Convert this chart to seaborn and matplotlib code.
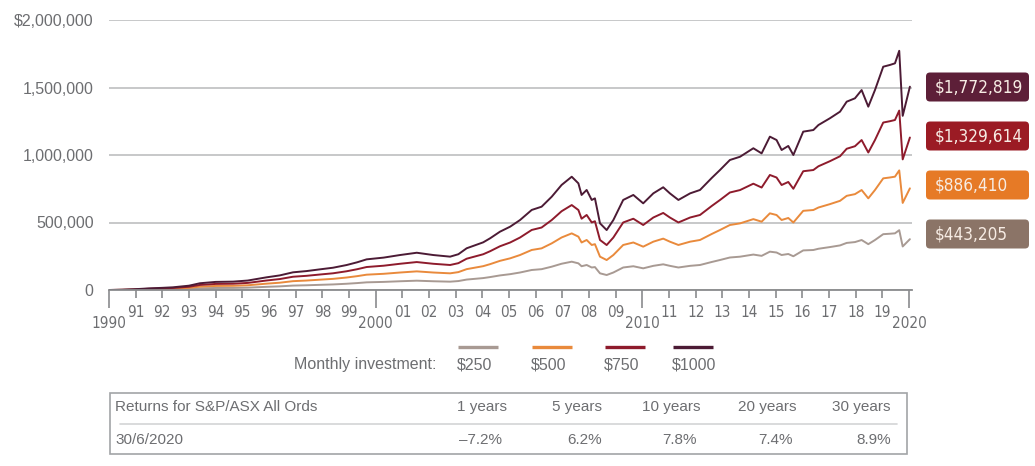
import pandas as pd
import matplotlib.pyplot as plt
import seaborn as sns
from matplotlib.patches import FancyBboxPatch, Rectangle
from matplotlib import font_manager as fm

sns.set_theme(style="white")
plt.rcParams['font.family'] = ['Liberation Sans', 'DejaVu Sans']

# Portfolio value of the $1000/month investor
years = [1990.0, 1990.5, 1990.9, 1991.5, 1992.0, 1992.4, 1993.0, 1993.41, 1994.0, 1994.65,
         1995.2, 1995.91, 1996.4, 1996.9, 1997.4, 1997.91, 1998.4, 1998.91, 1999.3, 1999.66,
         2000.3, 2000.91, 2001.54, 2002.16, 2002.79, 2003.1, 2003.41, 2004.03, 2004.29, 2004.66,
         2005.04, 2005.41, 2005.85, 2006.22, 2006.6, 2006.97, 2007.35, 2007.6, 2007.72, 2007.91,
         2008.1, 2008.22, 2008.41, 2008.66, 2008.91, 2009.28, 2009.66, 2010.03, 2010.41, 2010.78,
         2011.03, 2011.35, 2011.79, 2012.16, 2012.6, 2012.91, 2013.28, 2013.66, 2014.16, 2014.47,
         2014.78, 2015.03, 2015.22, 2015.47, 2015.66, 2016.03, 2016.41, 2016.6, 2017.03, 2017.41,
         2017.66, 2017.97, 2018.22, 2018.47, 2018.72, 2019.03, 2019.28, 2019.47, 2019.63, 2019.76,
         2020.03]
value_1000 = [0, 2000, 5000, 12000, 16000, 20000, 32000, 50000, 60000, 62000,
              70000, 94000, 108000, 131000, 140000, 153000, 165000, 185000, 205000, 227000,
              240000, 259000, 276000, 259000, 247000, 265000, 309000, 353000, 383000, 432000,
              469000, 518000, 593000, 617000, 691000, 778000, 839000, 790000, 704000, 741000,
              667000, 679000, 494000, 444000, 518000, 667000, 704000, 642000, 716000, 761000,
              716000, 667000, 716000, 741000, 830000, 889000, 963000, 987000, 1050000, 1012000,
              1136000, 1111000, 1037000, 1067000, 1000000, 1173000, 1185000, 1222000, 1272000, 1321000,
              1395000, 1420000, 1481000, 1358000, 1481000, 1654000, 1667000, 1679000, 1772000, 1290000,
              1506000]

amounts = [250, 500, 750, 1000]
amount_labels = ["$250", "$500", "$750", "$1000"]
line_colors = ["#a89a93", "#e98a3c", "#8e1b2c", "#4c1b35"]
box_colors = ["#8b7467", "#e67a26", "#9b1b24", "#5d1f38"]
peak_values = [443205, 886410, 1329614, 1772819]

y_ticks = [0, 500000, 1000000, 1500000, 2000000]
y_tick_labels = ["0", "500,000", "1,000,000", "1,500,000", "$2,000,000"]
decade_ticks = [1990, 2000, 2010, 2020]
decade_labels = ["1990", "2000", "2010", "2020"]
year_ticks = [y for y in range(1991, 2020) if y % 10 != 0]
year_labels = [str(y)[2:] for y in year_ticks]

return_header = "Returns for S&P/ASX All Ords"
return_date = "30/6/2020"
return_periods = ["1 years", "5 years", "10 years", "20 years", "30 years"]
return_values = ["–7.2%", "6.2%", "7.8%", "7.4%", "8.9%"]

rows = []
for amt, lab in zip(amounts, amount_labels):
    for yr, v in zip(years, value_1000):
        rows.append({"year": yr, "value": v * amt / 1000, "investment": lab})
df = pd.DataFrame(rows)

W, H = 1035, 466
GREY = "#6d6e71"

# condensed face for tick labels and value boxes
narrow_file = fm.findfont(fm.FontProperties(family="DejaVu Sans", stretch="condensed"))
is_condensed = "Condensed" in narrow_file
narrow_fp = fm.FontProperties(fname=narrow_file)

fig = plt.figure(figsize=(W / 100, H / 100), dpi=100)
ax = fig.add_axes([109 / W, 1 - 290 / H, (912 - 109) / W, 270 / H])

sns.lineplot(data=df, x="year", y="value", hue="investment",
             palette=dict(zip(amount_labels, line_colors)), legend=False,
             linewidth=1.4, estimator=None, sort=False, ax=ax)

ax.set_xlim(1990, 1990 + 803 / 26.67)
ax.set_ylim(0, 2000000)
ax.set_xlabel("")
ax.set_ylabel("")
ax.set_yticks(y_ticks, labels=y_tick_labels)
ax.set_xticks(decade_ticks, labels=decade_labels)
ax.set_xticks(year_ticks, labels=year_labels, minor=True)
ax.yaxis.grid(True, color="#b8b9bb", linewidth=1.1)
ax.xaxis.grid(False)
for s in ["top", "right", "left"]:
    ax.spines[s].set_visible(False)
ax.spines["bottom"].set_color("#8a8b8d")
ax.spines["bottom"].set_linewidth(1.3)
ax.tick_params(axis="y", length=0, pad=11, labelsize=11.5, labelcolor=GREY)
ax.tick_params(axis="x", which="major", bottom=True, length=13, width=1.2,
               color="#8a8b8d", pad=6, labelcolor=GREY)
ax.tick_params(axis="x", which="minor", bottom=True, length=6, width=1.2,
               color="#8a8b8d", pad=5, labelcolor=GREY)
tick_size = 11 if is_condensed else 9.5
for t in ax.get_xticklabels(which="both"):
    t.set_fontproperties(narrow_fp)
    t.set_fontsize(tick_size)

# overlay in pixel coordinates for labels, legend and table
ov = fig.add_axes([0, 0, 1, 1])
ov.set_xlim(0, W)
ov.set_ylim(H, 0)
ov.axis("off")
ov.patch.set_alpha(0)

box_size = 12.3 if is_condensed else 11
box_centers = [234, 185, 136, 87]
for val, col, cy in zip(peak_values, box_colors, box_centers):
    ov.add_patch(FancyBboxPatch((926, cy - 14.5), 103, 29,
                                boxstyle="round,pad=0,rounding_size=4",
                                facecolor=col, edgecolor="none"))
    ov.text(935, cy + 0.5, f"${val:,}", ha="left", va="center", fontproperties=narrow_fp,
            fontsize=box_size, color="#f7ece4")

# legend
ov.text(437, 365, "Monthly investment:", ha="right", va="center", fontsize=11.5, color=GREY)
for lab, col, x0 in zip(amount_labels, line_colors, [458, 532, 605, 673]):
    ov.plot([x0, x0 + 40], [347, 347], color=col, linewidth=2.4, solid_capstyle="butt")
    ov.text(x0 - 1, 365, lab, ha="left", va="center", fontsize=11.5, color=GREY)

# returns table
ov.add_patch(Rectangle((109.5, 392.5), 797.5, 61.5, facecolor="none",
                       edgecolor="#a2a4a7", linewidth=1.2))
ov.plot([120, 897], [424, 424], color="#d3d4d6", linewidth=1.2)
ov.text(115, 407, return_header, ha="left", va="center", fontsize=11, color=GREY)
ov.text(115, 440, return_date, ha="left", va="center", fontsize=11, color=GREY)
for p, v, xh, xv in zip(return_periods, return_values,
                        [507, 602, 701, 796, 891], [502, 602, 697, 793, 891]):
    ov.text(xh, 407, p, ha="right", va="center", fontsize=11, color=GREY)
    ov.text(xv, 440, v, ha="right", va="center", fontsize=11, color=GREY)

fig.savefig("out.png", dpi=100)
